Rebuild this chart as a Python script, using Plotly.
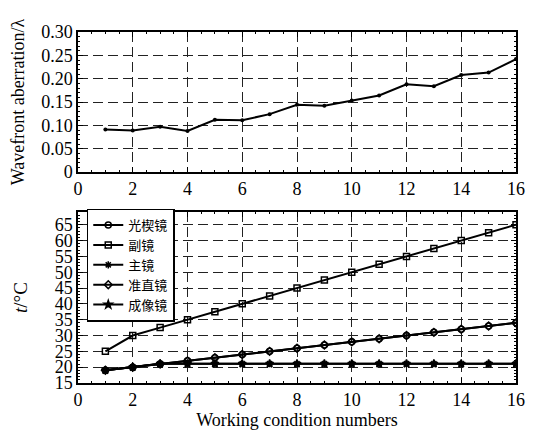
import plotly.graph_objects as go
from plotly.subplots import make_subplots

conditions = list(range(1, 17))
wavefront = [0.091, 0.089, 0.097, 0.088, 0.112, 0.111, 0.124, 0.144, 0.142, 0.153,
             0.164, 0.188, 0.184, 0.208, 0.213, 0.242]

series_names = ["光楔镜", "副镜", "主镜", "准直镜", "成像镜"]
t_wedge = [19, 20, 21, 22, 23, 24, 25, 26, 27, 28, 29, 30, 31, 32, 33, 34]
t_secondary = [25, 30, 32.5, 35, 37.5, 40, 42.5, 45, 47.5, 50, 52.5, 55, 57.5, 60, 62.5, 65]
t_primary = [19, 20, 21.1, 21.1, 21.1, 21.1, 21.1, 21.1, 21.1, 21.1, 21.1, 21.1, 21.1, 21.1, 21.1, 21.1]
t_collimator = [19, 20, 21, 22, 23, 24, 25, 26, 27, 28, 29, 30, 31, 32, 33, 34]
t_imaging = [19, 20, 21.1, 21.1, 21.1, 21.1, 21.1, 21.1, 21.1, 21.1, 21.1, 21.1, 21.1, 21.1, 21.1, 21.1]
series_values = [t_wedge, t_secondary, t_primary, t_collimator, t_imaging]
symbols = ["circle-open", "square-open", "asterisk-open", "diamond-open", "star"]

x_ticks = [0, 2, 4, 6, 8, 10, 12, 14, 16]
top_yticks = [0, 0.05, 0.10, 0.15, 0.20, 0.25, 0.30]
top_ylabels = ["0", "0.05", "0.10", "0.15", "0.20", "0.25", "0.30"]
bot_yticks = [15, 20, 25, 30, 35, 40, 45, 50, 55, 60, 65]

fig = make_subplots(rows=2, cols=1)

fig.add_trace(go.Scatter(x=conditions, y=wavefront, mode="lines+markers",
                         line=dict(color="black", width=2),
                         marker=dict(symbol="circle", size=4, color="black"),
                         showlegend=False), row=1, col=1)

for name, vals, sym in zip(series_names, series_values, symbols):
    fig.add_trace(go.Scatter(x=conditions, y=vals, mode="lines+markers", name=name,
                             line=dict(color="black", width=2),
                             marker=dict(symbol=sym, size=6, color="black",
                                         line=dict(color="black", width=1.5)),
                             ), row=2, col=1)

serif = "Liberation Serif, DejaVu Serif, serif"
axis_common = dict(showline=True, linecolor="black", linewidth=1.5, mirror="allticks",
                   ticks="inside", ticklen=5, tickcolor="black", tickwidth=1,
                   showgrid=True, gridcolor="#222222", griddash="10px,5px", gridwidth=1.3,
                   zeroline=False, automargin=False,
                   tickfont=dict(family=serif, size=18, color="black"),
                   minor=dict(ticks="inside", ticklen=2, tickcolor="black", showgrid=False))

for r in (1, 2):
    fig.update_xaxes(range=[0, 16], tickvals=x_ticks, minor_dtick=0.5, row=r, col=1,
                     **axis_common)

fig.update_yaxes(range=[0, 0.30], tickvals=top_yticks, ticktext=top_ylabels,
                 minor_dtick=0.01, row=1, col=1, domain=[0.601, 1.0], **axis_common,
                 title=dict(text="Wavefront aberration/λ",
                            font=dict(family=serif, size=18, color="black"), standoff=16))
fig.update_yaxes(range=[15, 69], tickvals=bot_yticks, minor_dtick=1, row=2, col=1,
                 domain=[0.0, 0.487], **axis_common,
                 title=dict(text="<i>t</i>/°C",
                            font=dict(family=serif, size=19, color="black"), standoff=22))
fig.update_xaxes(title=dict(text="Working condition numbers",
                            font=dict(family=serif, size=18, color="black"), standoff=3),
                 row=2, col=1)

fig.update_layout(
    width=529, height=426,
    margin=dict(l=70, r=21, t=24, b=51),
    paper_bgcolor="white", plot_bgcolor="white",
    font=dict(family=serif),
    showlegend=True,
    legend=dict(x=0.02, y=0.497, xanchor="left", yanchor="top",
                bgcolor="white", bordercolor="black", borderwidth=1.5,
                font=dict(family="Noto Sans CJK SC", size=13, color="black"),
                tracegroupgap=0, itemwidth=30),
)

fig.write_html("out.html")
